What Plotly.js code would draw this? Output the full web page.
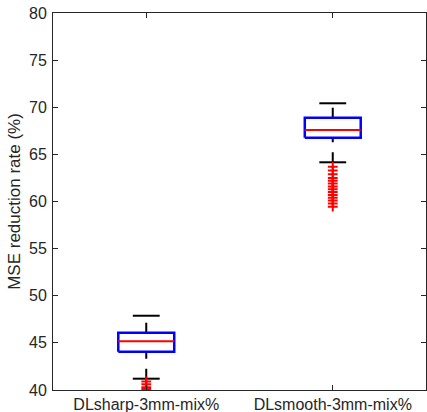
<!DOCTYPE html>
<html>
<head>
<meta charset="utf-8">
<script src="https://cdn.plot.ly/plotly-3.0.1.min.js"></script>
<style>html,body{margin:0;padding:0;background:#fff;}#chart{width:427px;height:412px;}</style>
</head>
<body>
<div id="chart"></div>
<script>
var categories = ["DLsharp-3mm-mix%", "DLsmooth-3mm-mix%"];
var positions = [1, 2];
var q1 = [44.06, 66.77];
var medians = [45.17, 67.59];
var q3 = [46.08, 68.89];
var lowerWhisker = [41.2, 64.16];
var upperWhisker = [47.88, 70.42];
var outliers = [
  [40.9, 40.6, 40.3, 40.1],
  [63.7, 63.3, 62.9, 62.5, 62.2, 61.9, 61.6, 61.3, 61.0, 60.7, 60.4, 60.1, 59.8, 59.45]
];
var yTicks = [40, 45, 50, 55, 60, 65, 70, 75, 80];

var boxHalf = 0.15, capHalf = 0.072;
var traces = [];
for (var i = 0; i < categories.length; i++) {
  var c = positions[i];
  traces.push({type:'scatter', mode:'lines', x:[c, c], y:[q3[i], upperWhisker[i]],
    line:{color:'#000', width:2, dash:'10px,10px'}, hoverinfo:'skip', showlegend:false});
  traces.push({type:'scatter', mode:'lines', x:[c, c], y:[lowerWhisker[i], q1[i]],
    line:{color:'#000', width:2, dash:'10px,10px'}, hoverinfo:'skip', showlegend:false});
  traces.push({type:'scatter', mode:'lines', x:[c-capHalf, c+capHalf, null, c-capHalf, c+capHalf],
    y:[upperWhisker[i], upperWhisker[i], null, lowerWhisker[i], lowerWhisker[i]],
    line:{color:'#000', width:2}, hoverinfo:'skip', showlegend:false});
  traces.push({type:'scatter', mode:'lines', x:[c-boxHalf, c+boxHalf, c+boxHalf, c-boxHalf, c-boxHalf],
    y:[q1[i], q1[i], q3[i], q3[i], q1[i]],
    line:{color:'#0000FF', width:2.5}, hoverinfo:'skip', showlegend:false});
  traces.push({type:'scatter', mode:'lines', x:[c-boxHalf, c+boxHalf], y:[medians[i], medians[i]],
    line:{color:'#FF0000', width:2}, hoverinfo:'skip', showlegend:false});
  traces.push({type:'scatter', mode:'markers', x:outliers[i].map(function(){return c;}), y:outliers[i],
    marker:{symbol:'cross-thin', size:7, line:{color:'#FF0000', width:2}}, cliponaxis:true,
    hoverinfo:'skip', showlegend:false});
}

var axisCommon = {showline:true, linecolor:'#262626', linewidth:1, mirror:'ticks',
  ticks:'inside', ticklen:5, tickwidth:1, tickcolor:'#262626', showgrid:false, zeroline:false,
  tickfont:{family:'Liberation Sans, Arial, sans-serif', size:16, color:'#262626'}};

var layout = {
  width:427, height:412,
  margin:{l:53, r:1, t:13, b:22},
  paper_bgcolor:'#fff', plot_bgcolor:'#fff',
  showlegend:false,
  xaxis:Object.assign({}, axisCommon, {range:[0.5, 2.5], tickmode:'array', tickvals:positions, ticktext:categories, ticklabelstandoff:0}),
  yaxis:Object.assign({}, axisCommon, {range:[40, 80], tickmode:'array', tickvals:yTicks,
    ticktext:yTicks.map(String), ticklabelstandoff:2,
    title:{text:'MSE reduction rate (%)', standoff:4, font:{family:'Liberation Sans, Arial, sans-serif', size:17, color:'#262626'}}})
};

Plotly.newPlot('chart', traces, layout, {displayModeBar:false, staticPlot:true});
</script>
</body>
</html>
